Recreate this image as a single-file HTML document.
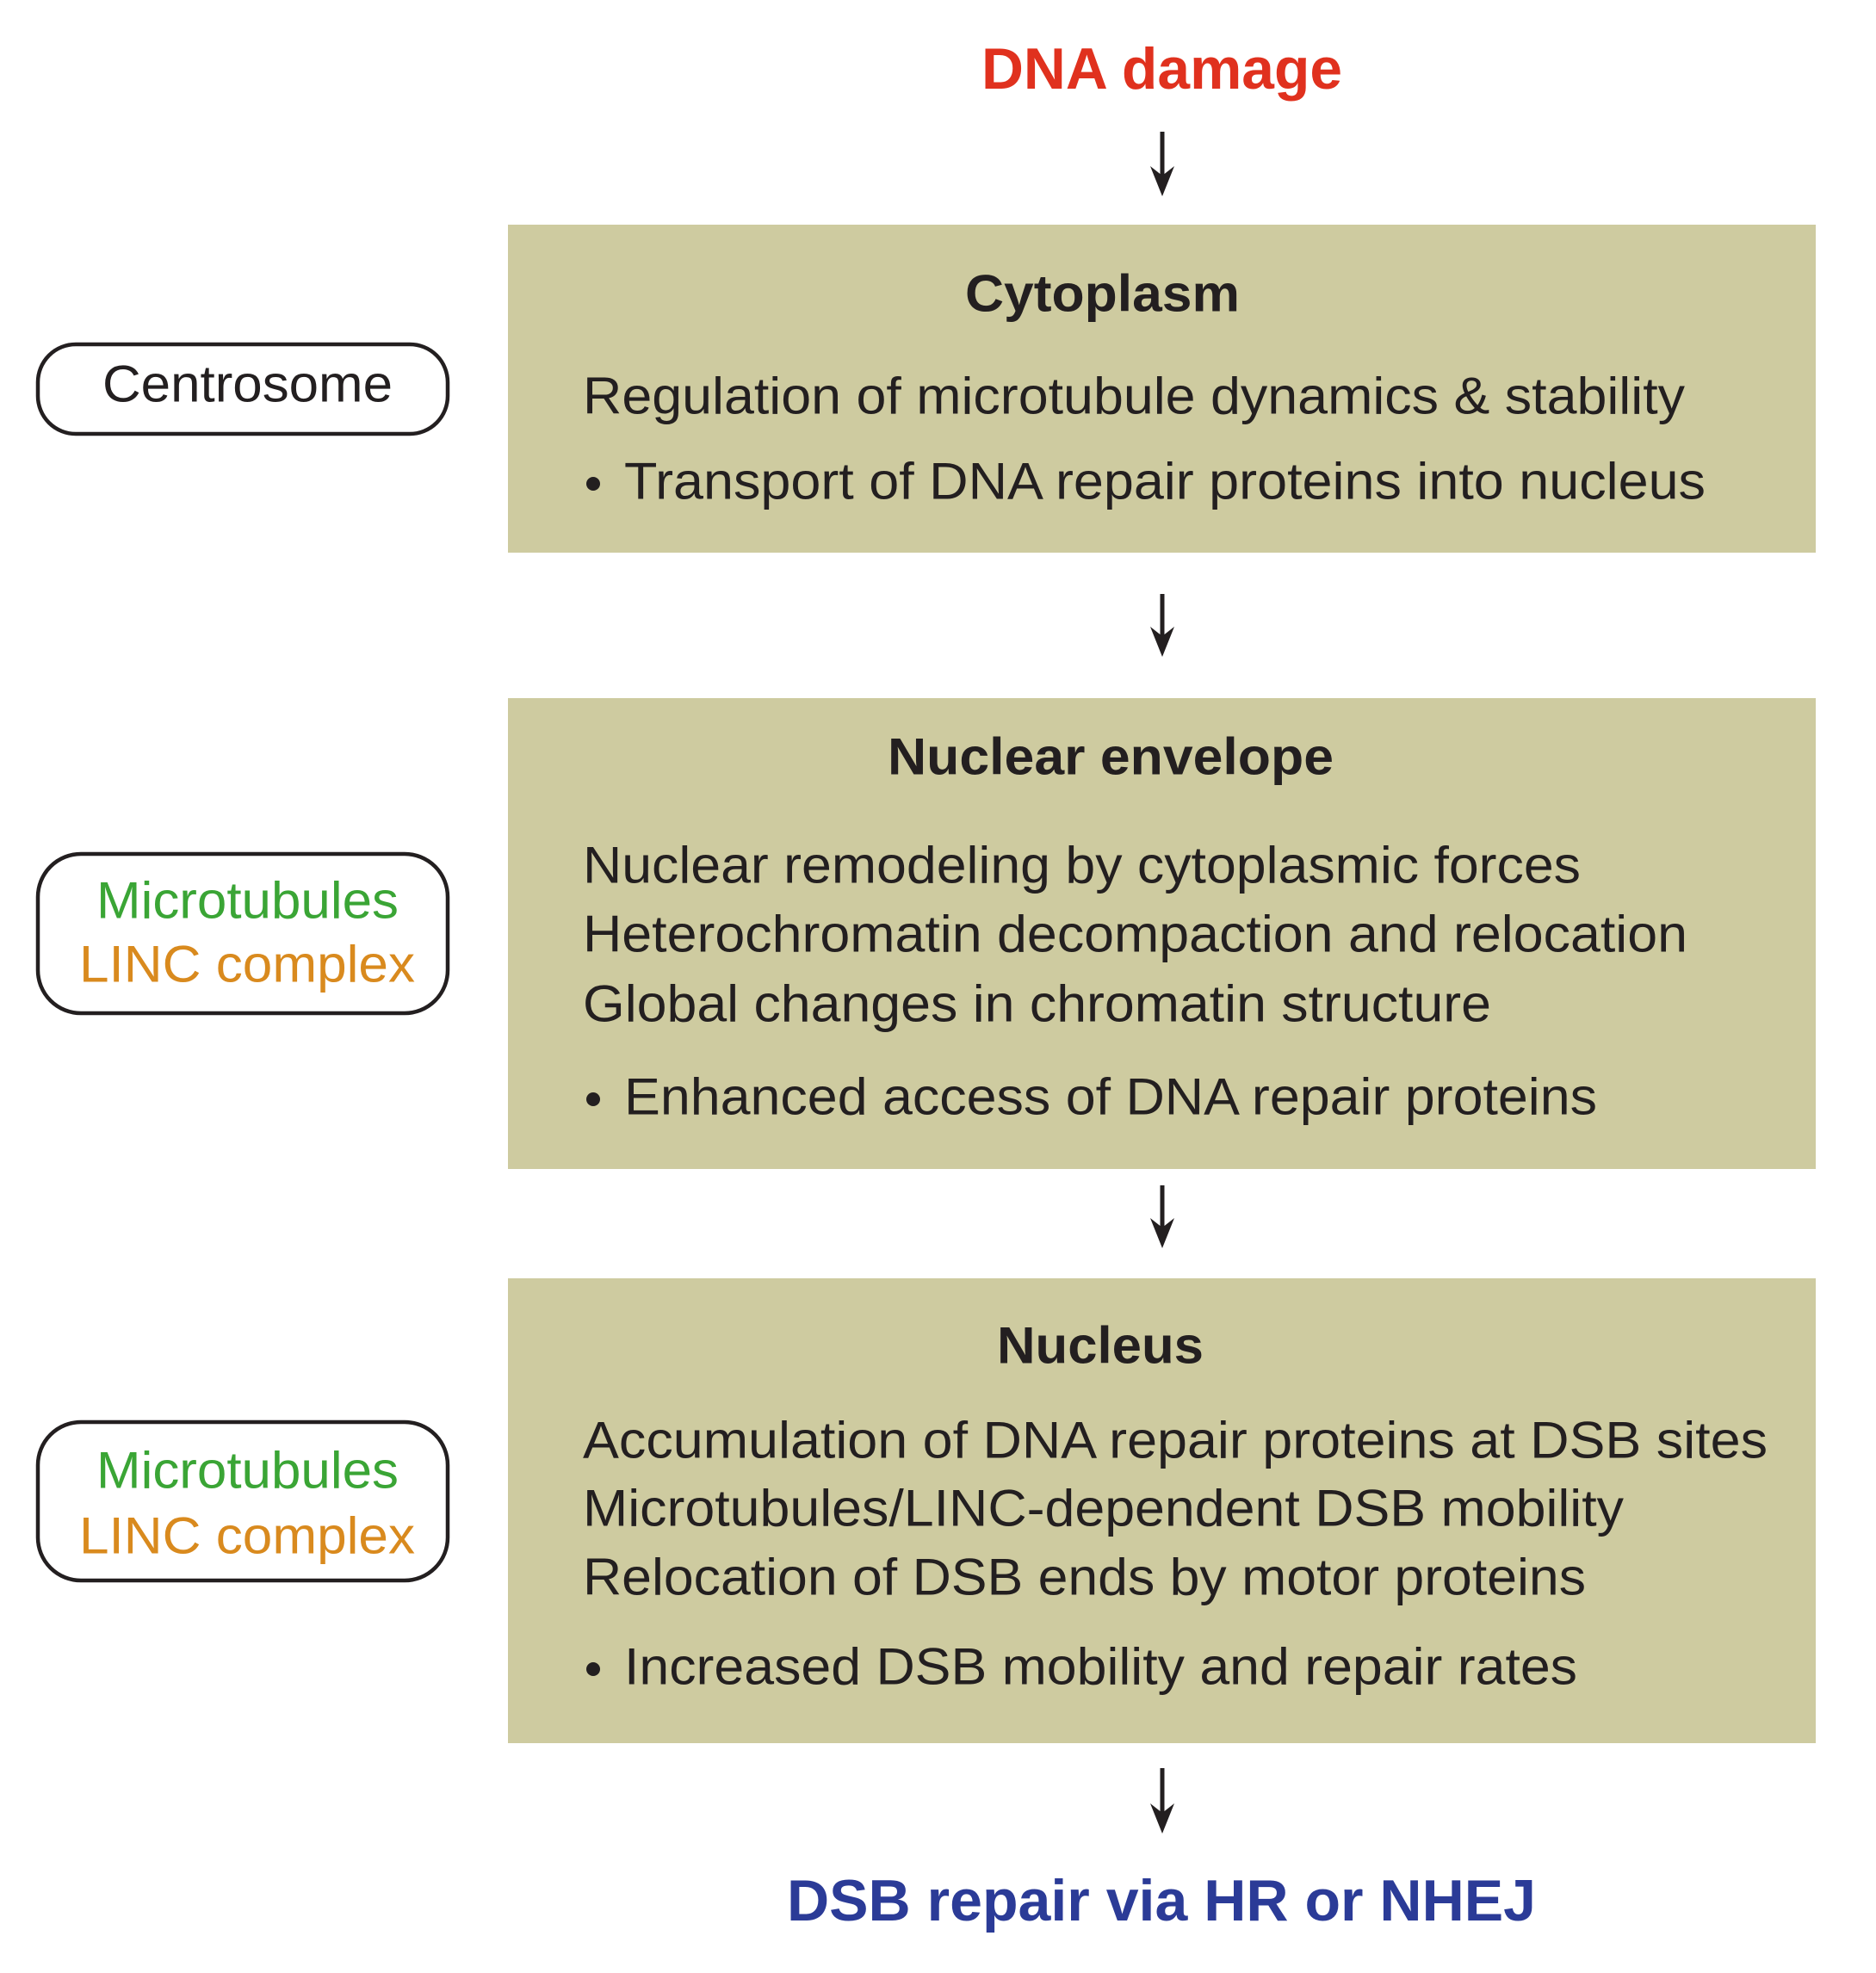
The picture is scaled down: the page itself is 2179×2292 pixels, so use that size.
<!DOCTYPE html>
<html><head><meta charset="utf-8"><style>
html,body{margin:0;padding:0;background:#fff;}
svg{display:block;}
text{font-family:"Liberation Sans",Arial,sans-serif;fill:#231f20;dominant-baseline:central;}
.t{font-size:60px;font-weight:bold;}
.b{font-size:60px;}
</style></head><body>
<svg width="2179" height="2292" viewBox="0 0 2179 2292" xmlns="http://www.w3.org/2000/svg">
<text class="t" x="1140" y="80" textLength="419" lengthAdjust="spacingAndGlyphs" style="fill:#e0311e;font-size:68px">DNA damage</text>
<text class="t" x="914" y="2208" textLength="870" lengthAdjust="spacingAndGlyphs" style="fill:#2b3b97;font-size:68px">DSB repair via HR or NHEJ</text>

<g stroke="#231f20" stroke-width="5" fill="#231f20">
<line x1="1350" y1="153" x2="1350" y2="215"/><path d="M1336 193 L1350 228 L1364 193 L1350 204 Z" stroke="none"/>
<line x1="1350" y1="690" x2="1350" y2="750"/><path d="M1336 728 L1350 763 L1364 728 L1350 739 Z" stroke="none"/>
<line x1="1350" y1="1377" x2="1350" y2="1437"/><path d="M1336 1415 L1350 1450 L1364 1415 L1350 1426 Z" stroke="none"/>
<line x1="1350" y1="2054" x2="1350" y2="2117"/><path d="M1336 2095 L1350 2130 L1364 2095 L1350 2106 Z" stroke="none"/>
</g>

<rect x="590" y="261" width="1519" height="381" fill="#cecba0"/>
<rect x="590" y="811" width="1519" height="547" fill="#cecba0"/>
<rect x="590" y="1485" width="1519" height="540" fill="#cecba0"/>

<text class="t" x="1121" y="341" textLength="319" lengthAdjust="spacingAndGlyphs">Cytoplasm</text>
<text class="b" x="677" y="460" textLength="1280" lengthAdjust="spacingAndGlyphs">Regulation of microtubule dynamics &amp; stability</text>
<circle cx="689" cy="562" r="8" fill="#231f20"/>
<text class="b" x="725" y="559" textLength="1256" lengthAdjust="spacingAndGlyphs">Transport of DNA repair proteins into nucleus</text>

<text class="t" x="1031" y="879" textLength="518" lengthAdjust="spacingAndGlyphs">Nuclear envelope</text>
<text class="b" x="677" y="1005" textLength="1159" lengthAdjust="spacingAndGlyphs">Nuclear remodeling by cytoplasmic forces</text>
<text class="b" x="677" y="1085" textLength="1283" lengthAdjust="spacingAndGlyphs">Heterochromatin decompaction and relocation</text>
<text class="b" x="677" y="1166" textLength="1055" lengthAdjust="spacingAndGlyphs">Global changes in chromatin structure</text>
<circle cx="689" cy="1277" r="8" fill="#231f20"/>
<text class="b" x="725" y="1274" textLength="1130" lengthAdjust="spacingAndGlyphs">Enhanced access of DNA repair proteins</text>

<text class="t" x="1158" y="1563" textLength="240" lengthAdjust="spacingAndGlyphs">Nucleus</text>
<text class="b" x="677" y="1673" textLength="1376" lengthAdjust="spacingAndGlyphs">Accumulation of DNA repair proteins at DSB sites</text>
<text class="b" x="677" y="1752" textLength="1209" lengthAdjust="spacingAndGlyphs">Microtubules/LINC-dependent DSB mobility</text>
<text class="b" x="677" y="1832" textLength="1165" lengthAdjust="spacingAndGlyphs">Relocation of DSB ends by motor proteins</text>
<circle cx="689" cy="1939" r="8" fill="#231f20"/>
<text class="b" x="725" y="1936" textLength="1107" lengthAdjust="spacingAndGlyphs">Increased DSB mobility and repair rates</text>

<g fill="#fff" stroke="#231f20" stroke-width="4.5">
<rect x="44" y="400" width="476" height="104" rx="44"/>
<rect x="44" y="992" width="476" height="185" rx="50"/>
<rect x="44" y="1652" width="476" height="184" rx="50"/>
</g>
<text class="b" x="119" y="446" textLength="337" lengthAdjust="spacingAndGlyphs">Centrosome</text>
<text class="b" x="112" y="1046" textLength="351" lengthAdjust="spacingAndGlyphs" style="fill:#3aa535">Microtubules</text>
<text class="b" x="92" y="1120" textLength="390" lengthAdjust="spacingAndGlyphs" style="fill:#d98a1e">LINC complex</text>
<text class="b" x="112" y="1708" textLength="351" lengthAdjust="spacingAndGlyphs" style="fill:#3aa535">Microtubules</text>
<text class="b" x="92" y="1784" textLength="390" lengthAdjust="spacingAndGlyphs" style="fill:#d98a1e">LINC complex</text>
</svg>
</body></html>
